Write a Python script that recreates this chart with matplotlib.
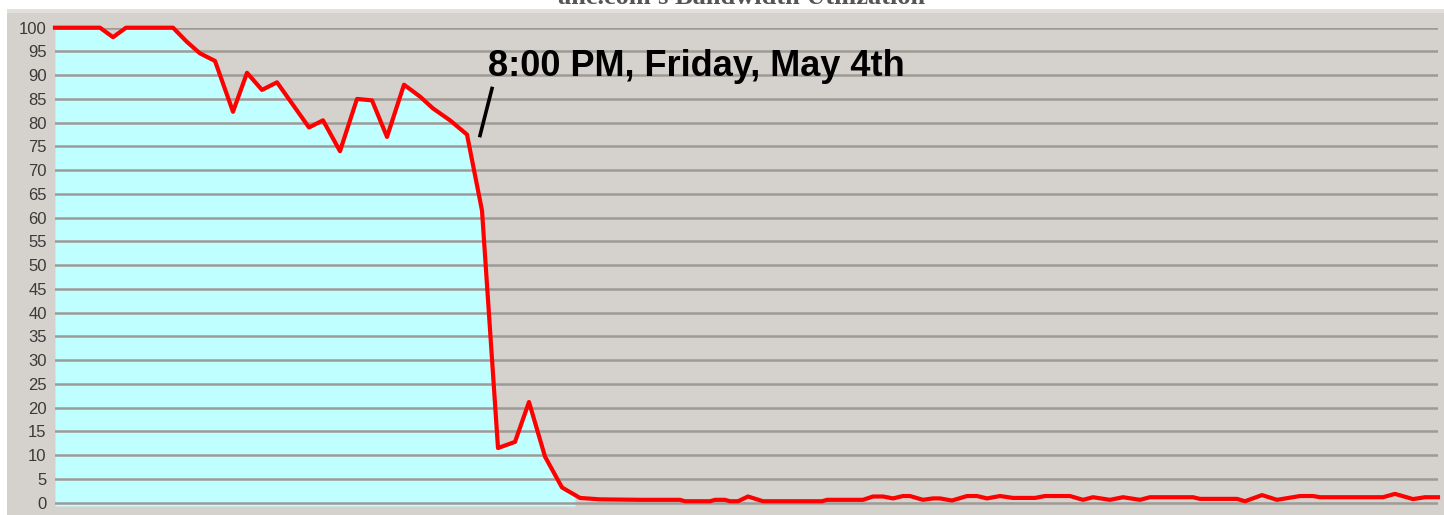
import matplotlib.pyplot as plt
import numpy as np
from matplotlib.patches import Rectangle

# sample times (arbitrary units) and utilization (%)
t = [0, 45, 58, 71, 118, 132, 145, 160, 178, 192, 207, 222, 254, 268, 285,
     302, 317, 332, 349, 365, 378, 395, 412, 427, 443, 460, 474, 490, 507,
     525, 545, 585, 625, 630, 655, 660, 670, 675, 683, 693, 708, 767, 772,
     808, 818, 828, 838, 848, 855, 868, 878, 885, 897, 912, 922, 932, 945,
     958, 980, 990, 1015, 1028, 1038, 1055, 1068, 1085, 1095, 1138, 1145,
     1182, 1190, 1207, 1222, 1245, 1258, 1265, 1328, 1340, 1358, 1370, 1383]
util = [100, 100, 98, 100, 100, 97, 94.6, 93, 82.3, 90.5, 86.9, 88.5, 79,
        80.5, 74, 85, 84.7, 77, 88, 85.5, 83, 80.5, 77.5, 61.5, 11.5, 12.8,
        21.2, 9.7, 3.2, 1.0, 0.7, 0.6, 0.6, 0.3, 0.3, 0.6, 0.6, 0.3, 0.3, 1.3,
        0.3, 0.3, 0.6, 0.6, 1.3, 1.3, 0.9, 1.4, 1.4, 0.6, 0.9, 0.9, 0.45, 1.4,
        1.4, 0.9, 1.4, 1.0, 1.0, 1.4, 1.4, 0.6, 1.15, 0.6, 1.15, 0.6, 1.15,
        1.15, 0.8, 0.8, 0.3, 1.6, 0.6, 1.4, 1.4, 1.15, 1.15, 1.85, 0.75,
        1.15, 1.15]
fill_until = 520
yticks = list(range(0, 101, 5))
title = "ahc.com's Bandwidth Utilization"
note = "8:00 PM, Friday, May 4th"

W, H = 1444, 515
fig = plt.figure(figsize=(W / 100, H / 100), dpi=100, facecolor='white')

grey = '#d5d2cd'
fig.patches.append(Rectangle((7 / W, 0), 1 - 7 / W, (H - 9) / H,
                             transform=fig.transFigure, facecolor=grey,
                             edgecolor='none', zorder=-2))
fig.patches.append(Rectangle((7 / W, (H - 13) / H), 1 - 7 / W, 4 / H,
                             transform=fig.transFigure, facecolor='#e2e0dc',
                             edgecolor='none', zorder=-2))

ax = fig.add_axes([55 / W, (H - 506) / H, 1383 / W, (506 - 27.7) / H])
ax.set_zorder(1)
ax.set_facecolor(grey)
ax.set_xlim(t[0], t[-1])
ax.set_ylim(-0.7, 100)

tt = np.array(t, dtype=float)
uu = np.array(util, dtype=float)
mask = tt <= fill_until
tf = np.append(tt[mask], fill_until)
uf = np.append(uu[mask], np.interp(fill_until, tt, uu))
ax.fill_between(tf, -0.7, uf, color='#c0ffff', zorder=1, linewidth=0)

for y in yticks:
    ax.axhline(y, color='#9e9b97', lw=1.8, zorder=2)

ax.plot(t, util, color='#ff0000', lw=3.0, zorder=3, solid_joinstyle='round',
        clip_on=False)

ax.set_yticks(yticks)
ax.set_yticklabels([str(y) for y in yticks],
                   family=['Liberation Sans Narrow', 'Liberation Sans'],
                   fontsize=12, color='#3a3a3a')
ax.tick_params(axis='y', length=0, pad=6)
ax.set_xticks([])
for s in ax.spines.values():
    s.set_visible(False)

# annotation
ax.text(433, 89.8, note, fontsize=26, fontweight='bold',
        family=['Liberation Sans', 'DejaVu Sans'], va='baseline', zorder=4)
ax.plot([425, 437], [77.3, 87.2], color='black', lw=2.6, zorder=4)

fig.text(742 / W, (H - 4) / H, title, ha='center', va='baseline',
         fontsize=19, fontweight='bold', color='#555555',
         family=['Liberation Serif', 'DejaVu Serif'])

fig.savefig('out.png', dpi=100, facecolor='white')
